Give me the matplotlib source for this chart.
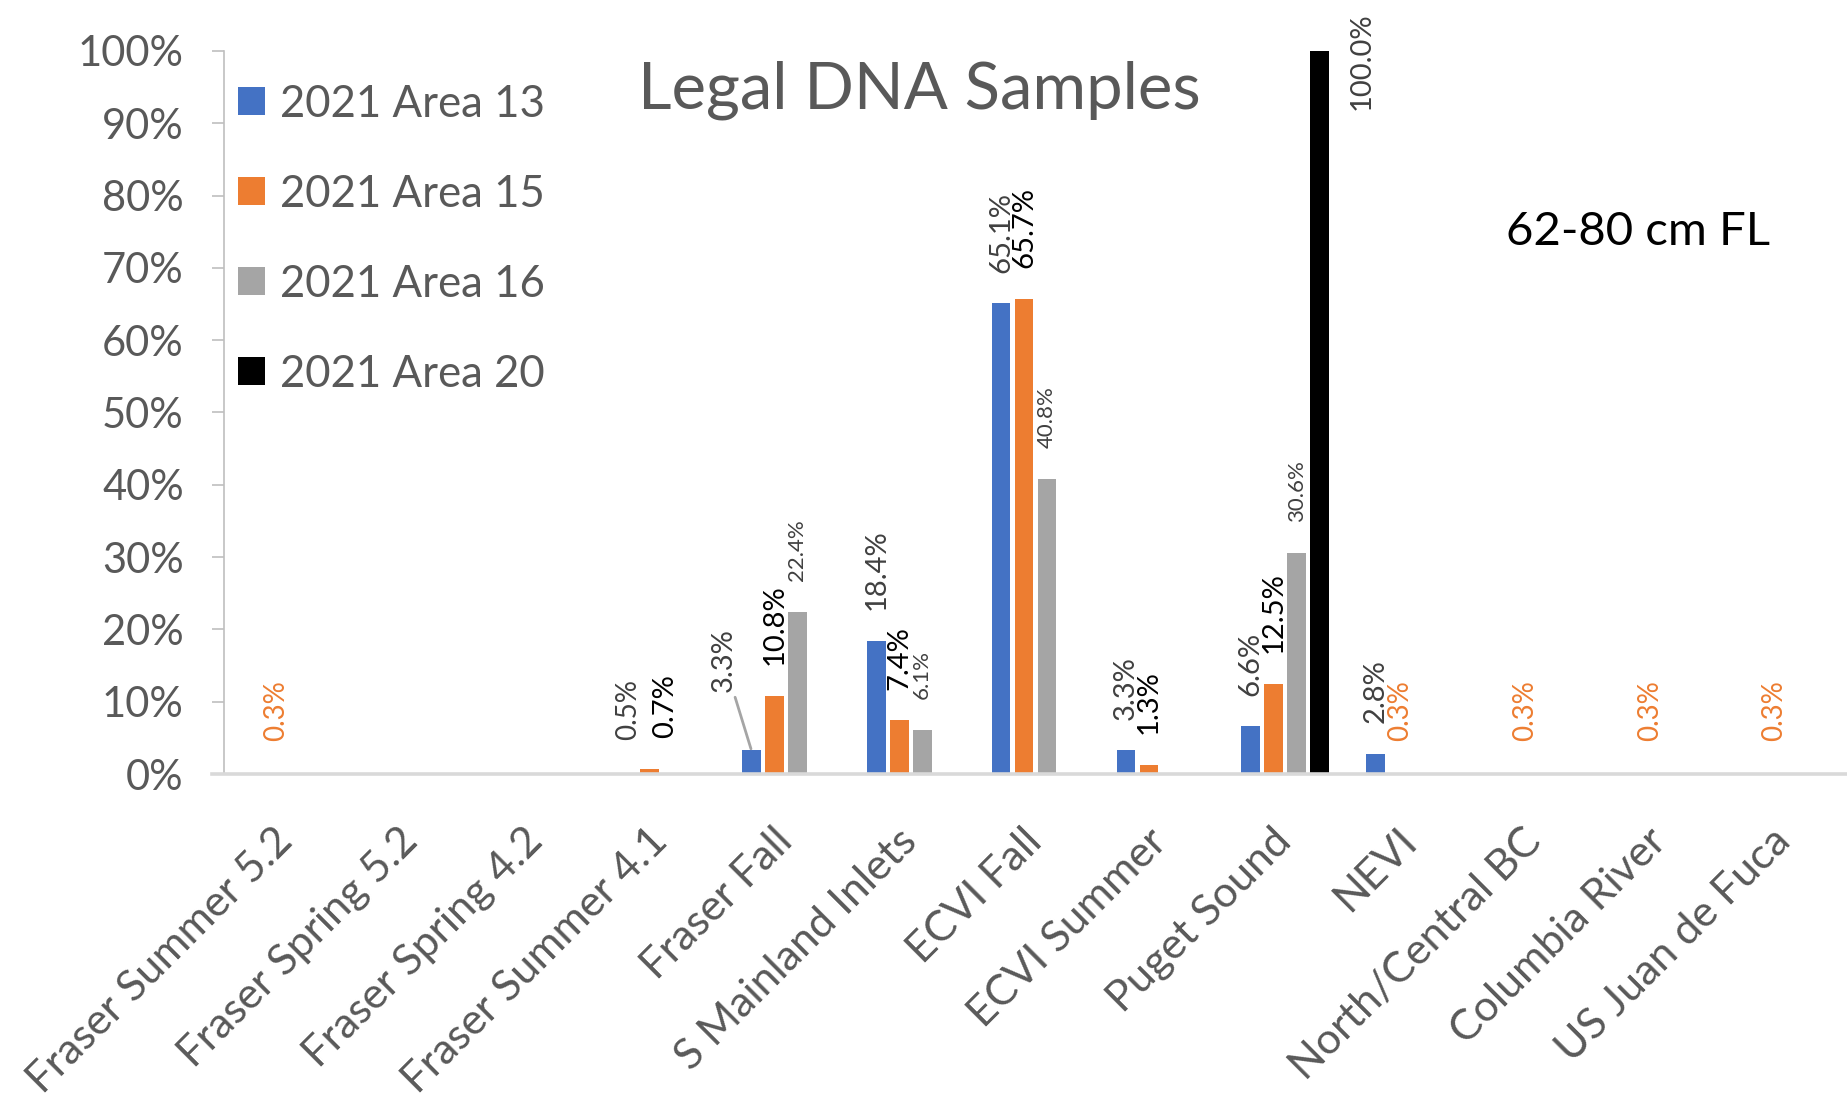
import numpy as np
import matplotlib
matplotlib.use("Agg")
import matplotlib.pyplot as plt
import matplotlib.ticker as mtick

plt.rcParams['font.family'] = ['Lato', 'DejaVu Sans']

categories = ["Fraser Summer 5.2", "Fraser Spring 5.2", "Fraser Spring 4.2",
              "Fraser Summer 4.1", "Fraser Fall", "S Mainland Inlets",
              "ECVI Fall", "ECVI Summer", "Puget Sound", "NEVI",
              "North/Central BC", "Columbia River", "US Juan de Fuca"]

series_names = ["2021 Area 13", "2021 Area 15", "2021 Area 16", "2021 Area 20"]

# percent values per category
area13 = [0, 0, 0, 0, 3.3, 18.4, 65.1, 3.3, 6.6, 2.8, 0, 0, 0]
area15 = [0, 0, 0, 0.7, 10.8, 7.4, 65.7, 1.3, 12.5, 0, 0, 0, 0]
area16 = [0, 0, 0, 0, 22.4, 6.1, 40.8, 0, 30.6, 0, 0, 0, 0]
area20 = [0, 0, 0, 0, 0, 0, 0, 0, 100.0, 0, 0, 0, 0]

# labels that show up with no visible bar under them
area13_floating = [None, None, None, 0.5, None, None, None, None, None, None, None, None, None]
area15_floating = [0.3, None, None, None, None, None, None, None, None, 0.3, 0.3, 0.3, 0.3]

colors = ["#4472C4", "#ED7D31", "#A5A5A5", "#000000"]
label_colors = ["#404040", "#000000", "#404040", "#404040"]
label_sizes = [21, 21, 16, 21]

fig = plt.figure(figsize=(18.47, 11.01), dpi=100)
ax = fig.add_axes([0.1213, 0.297, 0.8787, 0.6567])

xs = np.arange(len(categories))
slot = 0.184
width = 0.15
all_series = [area13, area15, area16, area20]
for i, (vals, name) in enumerate(zip(all_series, series_names)):
    off = (i - 1.5) * slot
    ax.bar(xs + off, vals, width=width, color=colors[i], label=name, zorder=2)
    for x, v in zip(xs, vals):
        if v <= 0:
            continue
        if v >= 95:
            # no room above, Excel put it to the right of the bar
            ax.annotate("%.1f%%" % v, (x + off, v), xytext=(30, 28),
                        textcoords="offset points", rotation=90,
                        ha="center", va="top", fontsize=label_sizes[i],
                        color=label_colors[i], annotation_clip=False)
        elif i == 0 and x == 4:
            # moved label with a leader line
            ax.annotate("%.1f%%" % v, (x + off, v), xytext=(-20, 42),
                        textcoords="offset points", rotation=90,
                        ha="center", va="bottom", fontsize=label_sizes[i],
                        color=label_colors[i],
                        arrowprops=dict(arrowstyle="-", color="#A5A5A5",
                                        lw=2, shrinkA=2, shrinkB=1))
        else:
            dx = 11 if (i == 1 and v < 1) else 0
            ax.annotate("%.1f%%" % v, (x + off, v), xytext=(dx, 22),
                        textcoords="offset points", rotation=90,
                        ha="center", va="bottom", fontsize=label_sizes[i],
                        color=label_colors[i])

for i, floating in [(0, area13_floating), (1, area15_floating)]:
    off = (i - 1.5) * slot
    col = "#404040" if i == 0 else colors[1]
    for x, v in zip(xs, floating):
        if v is None:
            continue
        ax.annotate("%.1f%%" % v, (x + off, v), xytext=(1, 22),
                    textcoords="offset points", rotation=90,
                    ha="center", va="bottom", fontsize=20, color=col)

ax.set_xlim(-0.5, len(categories) - 0.5)
ax.set_ylim(0, 100)
ax.yaxis.set_major_locator(mtick.MultipleLocator(10))
ax.yaxis.set_major_formatter(mtick.PercentFormatter(decimals=0))

ax.set_xticks(xs)
ax.set_xticklabels(categories, rotation=45, ha="right", va="center",
                   rotation_mode="anchor", fontsize=31, color="#595959")
ax.tick_params(axis="x", length=0, pad=44)
ax.tick_params(axis="y", length=9, width=1.2, color="#BFBFBF",
               labelsize=30, labelcolor="#595959", pad=20)

for s in ["top", "right"]:
    ax.spines[s].set_visible(False)
ax.spines["left"].set_color("#BFBFBF")
ax.spines["left"].set_linewidth(1.2)
ax.spines["bottom"].set_color("#D9D9D9")
ax.spines["bottom"].set_linewidth(2.6)
ax.spines["bottom"].set_bounds(-0.6, len(categories) - 0.5)
ax.spines["bottom"].set_zorder(3)

leg = ax.legend(loc="upper left", bbox_to_anchor=(0.129, 0.924),
                bbox_transform=fig.transFigure, frameon=False, fontsize=31.5,
                handlelength=0.6, handleheight=0.6, handletextpad=0.35,
                labelspacing=1.12, borderpad=0, borderaxespad=0)
for t in leg.get_texts():
    t.set_color("#595959")

fig.text(0.498, 0.918, "Legal DNA Samples", ha="center", va="center",
         fontsize=47, color="#595959")
fig.text(0.887, 0.789, "62-80 cm FL", ha="center", va="center",
         fontsize=34, color="#000000")

fig.savefig("out.png", dpi=100)
